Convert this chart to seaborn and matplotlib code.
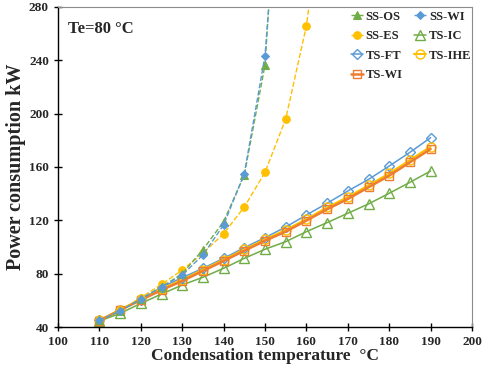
import numpy as np
import pandas as pd
import matplotlib
matplotlib.use('Agg')
import matplotlib.pyplot as plt
import seaborn as sns

# Condensation temperatures
t_ss = [110, 115, 120, 125, 130, 135, 140, 145, 150, 155]
t_es = [110, 115, 120, 125, 130, 135, 140, 145, 150, 155, 160, 165]
t_ts = list(range(110, 195, 5))

# Power consumption (kW)
ss_os = [45, 52, 61, 70, 80, 98, 119, 154, 236.5, 478]
ss_wi = [45, 52, 61, 70, 79, 94, 116.5, 155, 243.5, 445]
ss_es = [45, 52.5, 62, 72, 82.7, 95.3, 110, 130, 156, 196, 265.8, 385]
ts_ft = [45, 52.5, 60.5, 69.8, 77, 84, 91.5, 99.5, 107, 115, 124, 132.8,
         142, 150.7, 160.7, 171, 182]
ts_ihe = [45, 53, 60.8, 68.5, 75.5, 83, 90.5, 98.2, 105.7, 112.8, 121, 129.7,
          137.5, 146.3, 155.2, 165.2, 175.3]
ts_wi = [44.7, 52.7, 60.2, 67.7, 74.5, 82, 89.5, 97.2, 104.7, 111.5, 119.8,
         128.3, 136, 144.8, 153.5, 163.5, 173.5]
ts_ic = [44.5, 50.2, 57.7, 64.7, 71.5, 77.3, 84, 91.5, 98.3, 104, 111.5,
         118.3, 125.3, 132.3, 140.3, 148.5, 157]

blue = '#5B9BD5'
orange = '#ED7D31'
yellow = '#FFC000'
green = '#70AD47'

sns.set_style('white')
plt.rcParams['font.family'] = ['Liberation Serif', 'DejaVu Serif']
plt.rcParams['font.weight'] = 'bold'

fig = plt.figure(figsize=(4.84, 3.70), dpi=100)
ax = fig.add_axes([58 / 484, 1 - 327 / 370, 414 / 484, 320 / 370])

# Two-stage systems (solid, open markers)
sns.lineplot(x=t_ts, y=ts_ic, ax=ax, color=green, lw=1.1, marker='^', ms=6.5,
             mfc='none', mec=green, mew=1.0, label='TS-IC')
sns.lineplot(x=t_ts, y=ts_ft, ax=ax, color=blue, lw=1.1, marker='D', ms=5.5,
             mfc='none', mec=blue, mew=1.0, label='TS-FT')
sns.lineplot(x=t_ts, y=ts_ihe, ax=ax, color=yellow, lw=1.5, marker='o', ms=6.5,
             mfc='none', mec=yellow, mew=1.0, label='TS-IHE')
sns.lineplot(x=t_ts, y=ts_wi, ax=ax, color=orange, lw=1.8, marker='s', ms=6,
             mfc='none', mec=orange, mew=1.0, label='TS-WI')

# Single-stage systems (dashed, filled markers)
sns.lineplot(x=t_es, y=ss_es, ax=ax, color=yellow, lw=1.0, linestyle='--',
             marker='o', ms=5.5, mec=yellow, label='SS-ES')
sns.lineplot(x=t_ss, y=ss_os, ax=ax, color=green, lw=1.0, linestyle='--',
             marker='^', ms=5.5, mec=green, label='SS-OS')
sns.lineplot(x=t_ss, y=ss_wi, ax=ax, color=blue, lw=1.0, linestyle='--',
             marker='D', ms=4.5, mec=blue, label='SS-WI')

ax.set_xlim(100, 200)
ax.set_ylim(40, 280)
ax.set_xticks(np.arange(100, 201, 10))
ax.set_yticks(np.arange(40, 281, 40))

for side in ['left', 'bottom']:
    ax.spines[side].set_color('black')
    ax.spines[side].set_linewidth(1.0)
for side in ['top', 'right']:
    ax.spines[side].set_color('#8c8c8c')
    ax.spines[side].set_linewidth(0.8)

ax.tick_params(axis='both', which='major', direction='inout', length=6,
               width=1.0, labelsize=9.5, color='black', left=True, bottom=True)
for lab in ax.get_xticklabels() + ax.get_yticklabels():
    lab.set_fontweight('bold')

ax.set_xlabel('Condensation temperature  \u00b0C', fontsize=12.5,
              fontweight='bold', labelpad=0)
ax.set_ylabel('Power consumption kW', fontsize=14.5, fontweight='bold',
              labelpad=2)

ax.text(0.025, 0.955, 'Te=80 \u00b0C', transform=ax.transAxes, fontsize=12,
        fontweight='bold', va='top', ha='left')

# Legend order as in the original (row-wise in 2 columns)
handles, labels = ax.get_legend_handles_labels()
hmap = dict(zip(labels, handles))
order = ['SS-OS', 'SS-ES', 'TS-FT', 'TS-WI', 'SS-WI', 'TS-IC', 'TS-IHE']
ax.legend([hmap[k] for k in order], order, ncol=2, loc='upper right',
          bbox_to_anchor=(1.012, 1.006), frameon=False,
          handlelength=1.0, handletextpad=0.2, columnspacing=0.9,
          labelspacing=0.6, borderaxespad=0.05,
          prop={'weight': 'bold', 'size': 9})

fig.savefig('out.png', dpi=100)
